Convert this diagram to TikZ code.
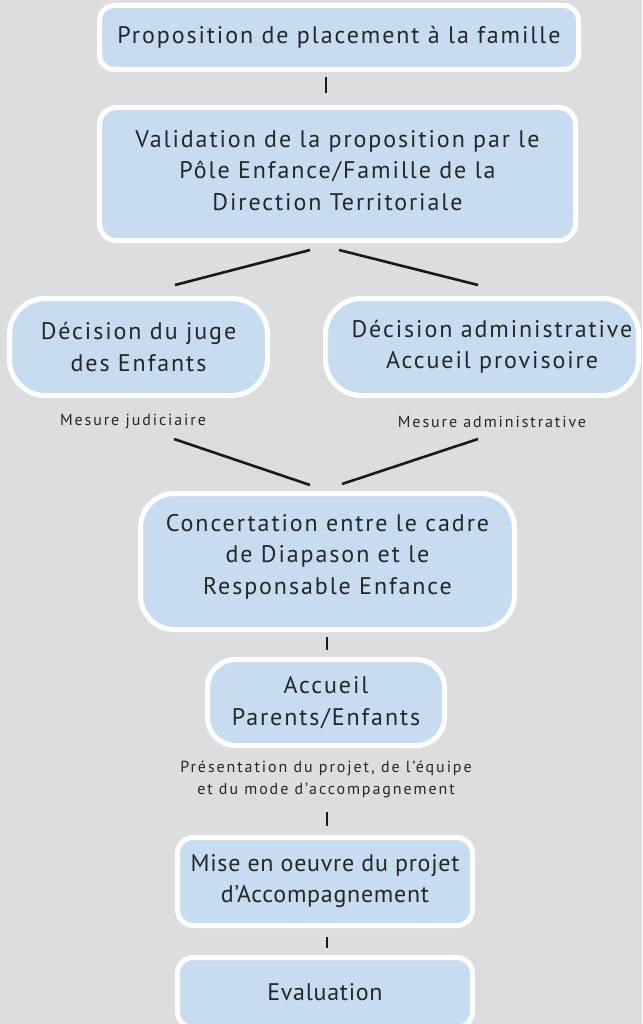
\documentclass[tikz,border=0pt]{standalone}
\usepackage{fontspec}
\setmainfont{PT Sans}
\newfontfamily\boitefamily{PT Sans}[LetterSpace=8]
\newfontfamily\serrefamily{PT Sans}[LetterSpace=3]
\newfontfamily\notefamily{PT Sans}[LetterSpace=12]
\definecolor{fondgris}{HTML}{DCDDDF}
\definecolor{bleuboite}{HTML}{C6DDF1}
\definecolor{encre}{HTML}{262626}
\newcommand{\boitefont}{\boitefamily\fontsize{24}{31.5}\selectfont}
\newcommand{\serrefont}{\serrefamily\fontsize{24}{31}\selectfont}
\newcommand{\notefont}{\notefamily\fontsize{16}{22}\selectfont}

\begin{document}
\begin{tikzpicture}[x=1pt,y=-1pt,
	etape/.style={draw=white, line width=5pt, fill=bleuboite, text=encre, align=center, inner sep=0pt, font=\boitefont},
	note/.style={text=encre, align=center, font=\notefont},
	trait/.style={line width=2.6pt, color=black!90}]
	\fill[fondgris] (0,0) rectangle (642,1024);
	\useasboundingbox (0,0) rectangle (642,1024);

	\node[etape, minimum width=479pt, minimum height=64pt, rounded corners=15pt] (prop) at (339,37.5) {Proposition de placement à la famille};
	\node[etape, minimum width=476pt, minimum height=133pt, rounded corners=17pt, text depth=7pt] (valid) at (337.5,174) {Validation de la proposition par le\\ Pôle Enfance/Famille de la\\ Direction Territoriale};
	\node[etape, minimum width=258pt, minimum height=97pt, rounded corners=36pt] (juge) at (138.5,347) {Décision du juge\\ des Enfants};
	\node[etape, minimum width=313pt, minimum height=97pt, rounded corners=36pt] (admin) at (482,347) {\hspace*{20pt}Décision administrative\\ \hspace*{20pt}Accueil provisoire};
	\node[note] (mjud) at (133,422) {Mesure judiciaire};
	\node[note] (madm) at (492,422) {Mesure administrative};
	\node[etape, minimum width=374pt, minimum height=136pt, rounded corners=34pt, text depth=15pt] (concert) at (327.5,561.5) {Concertation entre le cadre\\ de Diapason et le\\ Responsable Enfance};
	\node[etape, minimum width=237pt, minimum height=86pt, rounded corners=28pt] (accueil) at (326,702.5) {Accueil\\ Parents/Enfants};
	\node[note] (pres) at (326,779) {Présentation du projet, de l’équipe\\ et du mode d’accompagnement};
	\node[etape, minimum width=295pt, minimum height=88pt, rounded corners=16pt, font=\serrefont] (mise) at (325,881.5) {Mise en oeuvre du projet\\ d’Accompagnement};
	\node[etape, minimum width=295pt, minimum height=70pt, rounded corners=16pt, font=\serrefont] (eval) at (325,992.5) {Evaluation};

	% traits entre les etapes
	\coordinate (t1a) at (326,77); \coordinate (t1b) at (326,93);
	\coordinate (v1a) at (310,250); \coordinate (v1b) at (175,285);
	\coordinate (v2a) at (339,250); \coordinate (v2b) at (478,285);
	\coordinate (m1a) at (174,439); \coordinate (m1b) at (310,485);
	\coordinate (m2a) at (478,439); \coordinate (m2b) at (342,484);
	\coordinate (t2a) at (327,637); \coordinate (t2b) at (327,650);
	\coordinate (t3a) at (327,812); \coordinate (t3b) at (327,826);
	\coordinate (t4a) at (327,937); \coordinate (t4b) at (327,948);

	\draw[trait] (t1a) -- (t1b);
	\draw[trait] (v1a) -- (v1b);
	\draw[trait] (v2a) -- (v2b);
	\draw[trait] (m1a) -- (m1b);
	\draw[trait] (m2a) -- (m2b);
	\draw[trait] (t2a) -- (t2b);
	\draw[trait] (t3a) -- (t3b);
	\draw[trait] (t4a) -- (t4b);
\end{tikzpicture}
\end{document}
